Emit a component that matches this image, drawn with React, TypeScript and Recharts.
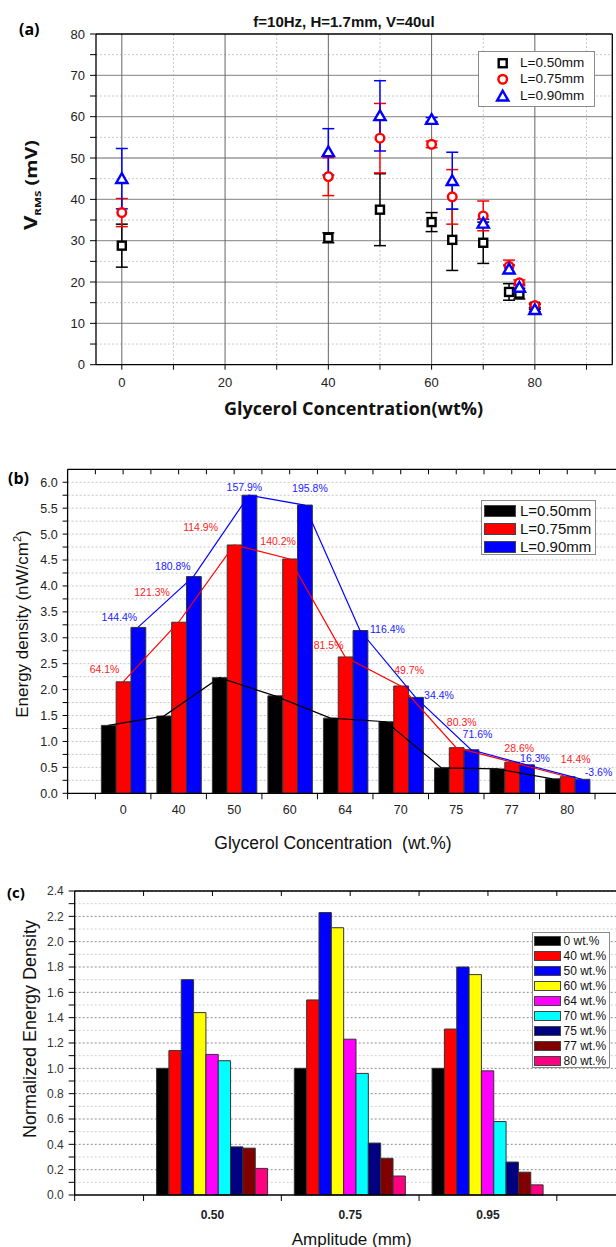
import React from 'react';
import {
  ScatterChart,
  Scatter,
  ErrorBar,
  ComposedChart,
  BarChart,
  Bar,
  Line,
  LabelList,
  XAxis,
  YAxis,
  CartesianGrid,
  Legend,
} from 'recharts';

// glycerol concentrations (wt.%) used by panels (a) and (b)
const concentrations = [0, 40, 50, 60, 64, 70, 75, 77, 80];
const seriesNames = ['L=0.50mm', 'L=0.75mm', 'L=0.90mm'];
const seriesColors = ['#000000', '#ff0000', '#0000ff'];

// (a) RMS voltage in mV, with +/- error
const vrms050 = [28.8, 30.7, 37.5, 34.5, 30.2, 29.5, 17.6, 17.2, 14.0];
const err050 = [5.2, 1.2, 8.7, 2.3, 7.4, 5.0, 2.0, 1.3, 0.6];
const vrms075 = [36.8, 45.5, 54.8, 53.3, 40.6, 36.0, 23.8, 19.8, 14.3];
const err075 = [3.4, 4.6, 8.4, 0.8, 6.6, 3.6, 1.5, 0.7, 0.5];
const vrms090 = [45.0, 51.5, 60.2, 59.3, 44.5, 34.2, 23.1, 18.7, 13.3];
const err090 = [7.3, 5.6, 8.5, 0.5, 6.9, 1.0, 1.0, 0.8, 0.5];

// (b) energy density in nW/cm2 and gain over L=0.50mm
const energy050 = [1.31, 1.49, 2.23, 1.88, 1.45, 1.38, 0.49, 0.47, 0.28];
const energy075 = [2.15, 3.3, 4.79, 4.52, 2.63, 2.07, 0.88, 0.6, 0.32];
const energy090 = [3.2, 4.18, 5.75, 5.56, 3.14, 1.85, 0.84, 0.55, 0.27];
const gain075 = ['64.1%', '121.3%', '114.9%', '140.2%', '81.5%', '49.7%', '80.3%', '28.6%', '14.4%'];
const gain090 = ['144.4%', '180.8%', '157.9%', '195.8%', '116.4%', '34.4%', '71.6%', '16.3%', '-3.6%'];

// (c) energy density normalised to 0 wt.%, one array per amplitude
const amplitudes = ['0.50', '0.75', '0.95'];
const norm050 = [1.0, 1.14, 1.7, 1.44, 1.11, 1.06, 0.38, 0.37, 0.21];
const norm075 = [1.0, 1.54, 2.23, 2.11, 1.23, 0.96, 0.41, 0.29, 0.15];
const norm095 = [1.0, 1.31, 1.8, 1.74, 0.98, 0.58, 0.26, 0.18, 0.08];
const concNames = ['0 wt.%', '40 wt.%', '50 wt.%', '60 wt.%', '64 wt.%', '70 wt.%', '75 wt.%', '77 wt.%', '80 wt.%'];
const concColors = ['#000000', '#ff0000', '#0000ff', '#ffff00', '#ff00ff', '#00ffff', '#000080', '#800000', '#ff0080'];

// axis ticks
const aXTicks = [0, 10, 20, 30, 40, 50, 60, 70, 80, 90];
const aYTicks = [0, 5, 10, 15, 20, 25, 30, 35, 40, 45, 50, 55, 60, 65, 70, 75, 80];
const bYTicks = [0, 0.25, 0.5, 0.75, 1, 1.25, 1.5, 1.75, 2, 2.25, 2.5, 2.75, 3, 3.25, 3.5, 3.75, 4, 4.25, 4.5, 4.75, 5, 5.25, 5.5, 5.75, 6];
const cYTicks = [0, 0.1, 0.2, 0.3, 0.4, 0.5, 0.6, 0.7, 0.8, 0.9, 1, 1.1, 1.2, 1.3, 1.4, 1.5, 1.6, 1.7, 1.8, 1.9, 2, 2.1, 2.2, 2.3, 2.4];

// where each gain label sits relative to the top centre of its bar
const gain075Offsets = [[-19, -12], [-27, -30], [-34, -18], [-12, -18], [-17, -12], [8, -16], [5, -25], [7, -14], [8, -17]];
const gain090Offsets = [[-19, -10], [-21, -10], [-5, -8], [5, -17], [27, -1], [23, -2], [6, -15], [8, -6], [16, -7]];

const SANS = 'Liberation Sans, Arial, sans-serif';
const BOLD = 'Open Sans, Liberation Sans, sans-serif';

// layout of panel (b): one empty half band before and after the categories
const B_WIDTH = 628;
const B_MARGIN = { top: 29.3, right: 5.2, bottom: 36.7, left: 27.6 };
const B_PLOT_W = B_WIDTH - B_MARGIN.left - B_MARGIN.right - 40;
const B_BAND = B_PLOT_W / 10;
const B_PAD = B_BAND / 2;
const B_BAR = (B_BAND * 0.8) / 3;

// layout of panel (c)
const C_WIDTH = 631;
const C_MARGIN = { top: 31, right: 5.3, bottom: 22, left: 34.7 };
const C_PLOT_W = C_WIDTH - C_MARGIN.left - C_MARGIN.right - 40;
const C_BAND = C_PLOT_W / 4;
const C_PAD = C_BAND / 2;
const C_BAR = (C_BAND * 0.806) / 9;

const pointsA = [
  concentrations.map((c, i) => ({ x: c, y: vrms050[i], err: err050[i] })),
  concentrations.map((c, i) => ({ x: c, y: vrms075[i], err: err075[i] })),
  concentrations.map((c, i) => ({ x: c, y: vrms090[i], err: err090[i] })),
];

const rowsB = concentrations.map((c, i) => ({
  conc: String(c),
  l050: energy050[i],
  l075: energy075[i],
  l090: energy090[i],
  g075: gain075[i],
  g090: gain090[i],
}));

const concKeys = concentrations.map((c) => `c${c}`);
const rowsC = amplitudes.map((amp, r) => {
  const vals = [norm050, norm075, norm095][r];
  const row: Record<string, string | number> = { amp };
  concKeys.forEach((k, i) => {
    row[k] = vals[i];
  });
  return row;
});

type MarkerProps = { cx: number; cy: number; color: string };

const OpenSquare = ({ cx, cy, color }: MarkerProps) => (
  <rect x={cx - 4} y={cy - 4} width={8} height={8} fill="#fff" stroke={color} strokeWidth={2.4} />
);
const OpenCircle = ({ cx, cy, color }: MarkerProps) => (
  <circle cx={cx} cy={cy} r={4.3} fill="#fff" stroke={color} strokeWidth={2.4} />
);
const OpenTriangle = ({ cx, cy, color }: MarkerProps) => (
  <polygon
    points={`${cx},${cy - 5.5} ${cx + 5.6},${cy + 4.3} ${cx - 5.6},${cy + 4.3}`}
    fill="#fff"
    stroke={color}
    strokeWidth={2.4}
  />
);
const markers = [OpenSquare, OpenCircle, OpenTriangle];

function LegendA() {
  return (
    <div style={{ position: 'relative', width: 117, height: 56, border: '1px solid #8a8a8a', boxSizing: 'border-box', background: '#fff' }}>
      {seriesNames.map((name, i) => {
        const Marker = markers[i];
        return (
          <div key={name} style={{ position: 'absolute', left: 0, top: 2.5 + i * 16.5, width: '100%', height: 16.5 }}>
            <svg width={20} height={16.5} style={{ position: 'absolute', left: 13, top: 0 }}>
              <Marker cx={10.7} cy={8.25} color={seriesColors[i]} />
            </svg>
            <span style={{ position: 'absolute', left: 41, top: 0, lineHeight: '16.5px', fontSize: 13.5, fontFamily: SANS, color: '#111' }}>
              {name}
            </span>
          </div>
        );
      })}
    </div>
  );
}

function LegendB() {
  return (
    <div style={{ position: 'relative', width: 115, height: 55, border: '1px solid #8a8a8a', boxSizing: 'border-box', background: '#fff' }}>
      {seriesNames.map((name, i) => (
        <div key={name} style={{ position: 'absolute', left: 0, top: 1 + i * 18, width: '100%', height: 18 }}>
          <div style={{ position: 'absolute', left: 2, top: 3, width: 32, height: 12, background: seriesColors[i], border: '1px solid #444', boxSizing: 'border-box' }} />
          <span style={{ position: 'absolute', left: 38.5, top: 0, lineHeight: '18px', fontSize: 15, fontFamily: SANS, color: '#111' }}>
            {name}
          </span>
        </div>
      ))}
    </div>
  );
}

function LegendC() {
  return (
    <div style={{ position: 'relative', width: 78, height: 136, border: '1px solid #8a8a8a', boxSizing: 'border-box', background: '#fff' }}>
      {concNames.map((name, i) => (
        <div key={name} style={{ position: 'absolute', left: 0, top: 0.5 + i * 15, width: '100%', height: 15 }}>
          <div style={{ position: 'absolute', left: 1, top: 2.5, width: 27, height: 10, background: concColors[i], border: '1px solid #444', boxSizing: 'border-box' }} />
          <span style={{ position: 'absolute', left: 31, top: 0, lineHeight: '15px', fontSize: 12, fontFamily: SANS, color: '#111' }}>
            {name}
          </span>
        </div>
      ))}
    </div>
  );
}

// bottom axis of a banded panel: label at the band centre, tick marks at the band edges
function BottomBandTick(props: any) {
  const { x, y, index, count, band, size, gap, bold, payload } = props;
  const y1 = y - gap - size;
  const y2 = y - gap;
  const edges = [x - band / 2];
  if (index === 0) edges.push(x - band);
  if (index === count - 1) edges.push(x + band / 2);
  return (
    <g>
      {edges.map((ex) => (
        <line key={ex} x1={ex} x2={ex} y1={y1} y2={y2} stroke="#000" strokeWidth={1} />
      ))}
      <text x={x} y={y} dy="0.71em" textAnchor="middle" fontSize={bold ? 12 : 12.5} fontWeight={bold ? 700 : 400} fontFamily={SANS} fill="#222">
        {payload.value}
      </text>
    </g>
  );
}

// top frame of a banded panel: inward ticks at band edges and centres
function TopBandTick(props: any) {
  const { x, y, index, count, band, size, gap } = props;
  const top = y - gap - size;
  const marks = [x - band / 2, x];
  if (index === count - 1) marks.push(x + band / 2);
  return (
    <g>
      {marks.map((mx) => (
        <line key={mx} x1={mx} x2={mx} y1={top} y2={top + size} stroke="#000" strokeWidth={1} />
      ))}
    </g>
  );
}

function gainLabel(texts: string[], offsets: number[][], color: string) {
  return (props: any) => {
    const box = props.viewBox ?? props;
    const i = typeof props.index === 'number' ? props.index : texts.indexOf(props.value);
    if (i < 0) return null;
    const [dx, dy] = offsets[i];
    return (
      <text x={box.x + box.width / 2 + dx} y={box.y + dy + 3.6} textAnchor="middle" fontSize={10.5} fontFamily={SANS} fill={color}>
        {texts[i]}
      </text>
    );
  };
}

const axisLine = { stroke: '#000', strokeWidth: 1.3 };
const tickLine = { stroke: '#000' };

function PanelA() {
  return (
    <ScatterChart width={616} height={440} margin={{ top: 34, right: 3.7, bottom: 45.3, left: 56 }}>
      <CartesianGrid horizontalValues={[5, 15, 25, 35, 45, 55, 65, 75]} verticalValues={[10, 30, 50, 70, 90]} stroke="#c9c9c9" strokeDasharray="2 2" />
      <CartesianGrid horizontalValues={[10, 20, 30, 40, 50, 60, 70]} vertical={false} stroke="#9a9a9a" strokeWidth={1.3} />
      <CartesianGrid verticalValues={[0, 20, 40, 60, 80]} horizontal={false} stroke="#666" strokeWidth={1} />
      <XAxis
        type="number"
        dataKey="x"
        domain={[-5, 95]}
        ticks={aXTicks}
        interval={0}
        tickFormatter={(v) => (v % 20 === 0 ? String(v) : '')}
        height={30}
        tickSize={5}
        tickMargin={8}
        axisLine={axisLine}
        tickLine={tickLine}
        tick={{ fontSize: 13, fill: '#222', fontFamily: SANS }}
      />
      <XAxis xAxisId="top" orientation="top" mirror type="number" domain={[-5, 95]} ticks={aXTicks} interval={0} tick={false} tickSize={5} axisLine={axisLine} tickLine={tickLine} />
      <YAxis
        type="number"
        dataKey="y"
        domain={[0, 80]}
        ticks={aYTicks}
        interval={0}
        tickFormatter={(v) => (v % 10 === 0 ? String(v) : '')}
        width={40}
        tickSize={6}
        tickMargin={5}
        axisLine={axisLine}
        tickLine={tickLine}
        tick={{ fontSize: 13, fill: '#222', fontFamily: SANS }}
      />
      <YAxis yAxisId="right" orientation="right" mirror type="number" domain={[0, 80]} ticks={aYTicks} interval={0} tick={false} tickSize={5} axisLine={axisLine} tickLine={tickLine} />
      <Legend layout="horizontal" align="center" verticalAlign="middle" content={() => <LegendA />} wrapperStyle={{ left: 478, top: 51, width: 117, height: 56 }} />
      {pointsA.map((pts, s) => {
        const Marker = markers[s];
        return (
          <Scatter
            key={seriesNames[s]}
            name={seriesNames[s]}
            data={pts}
            fill="#fff"
            isAnimationActive={false}
            shape={(p: any) => <Marker cx={p.cx} cy={p.cy} color={seriesColors[s]} />}
          >
            <ErrorBar dataKey="err" direction="y" width={6} stroke={seriesColors[s]} strokeWidth={1.5} isAnimationActive={false} />
          </Scatter>
        );
      })}
    </ScatterChart>
  );
}

function PanelB() {
  const n = rowsB.length;
  return (
    <ComposedChart width={B_WIDTH} height={420} data={rowsB} margin={B_MARGIN} barGap={0} barCategoryGap="10%">
      <CartesianGrid vertical={false} horizontalValues={bYTicks.slice(1)} stroke="#c4c4c4" strokeDasharray="2 2" />
      <XAxis
        dataKey="conc"
        padding={{ left: B_PAD, right: B_PAD }}
        interval={0}
        height={30}
        tickSize={6}
        tickMargin={5.7}
        tickLine={false}
        axisLine={axisLine}
        tick={(p: any) => <BottomBandTick {...p} count={n} band={B_BAND} size={6} gap={5.7} />}
      />
      <XAxis
        xAxisId="top"
        dataKey="conc"
        orientation="top"
        mirror
        padding={{ left: B_PAD, right: B_PAD }}
        interval={0}
        tickSize={5}
        tickMargin={0}
        tickLine={false}
        axisLine={axisLine}
        tick={(p: any) => <TopBandTick {...p} count={n} band={B_BAND} size={5} gap={0} />}
      />
      {/* the connecting lines run through the outer bars of each group */}
      <XAxis xAxisId="left-bar" dataKey="conc" orientation="top" hide padding={{ left: B_PAD - B_BAR, right: B_PAD + B_BAR }} />
      <XAxis xAxisId="right-bar" dataKey="conc" orientation="top" hide padding={{ left: B_PAD + B_BAR, right: B_PAD - B_BAR }} />
      <YAxis
        type="number"
        domain={[0, 6.25]}
        ticks={bYTicks}
        interval={0}
        tickFormatter={(v) => (v % 0.5 === 0 ? v.toFixed(1) : '')}
        width={40}
        tickSize={5}
        tickMargin={5}
        axisLine={axisLine}
        tickLine={tickLine}
        tick={{ fontSize: 12.5, fill: '#222', fontFamily: SANS }}
      />
      <YAxis yAxisId="right" orientation="right" mirror type="number" domain={[0, 6.25]} ticks={bYTicks} interval={0} tick={false} tickSize={5} axisLine={axisLine} tickLine={tickLine} />
      <Legend layout="horizontal" align="center" verticalAlign="middle" content={() => <LegendB />} wrapperStyle={{ left: 480.5, top: 60, width: 115, height: 55 }} />
      <Bar dataKey="l050" name={seriesNames[0]} fill={seriesColors[0]} stroke="#333" strokeWidth={1} barSize={B_BAR} isAnimationActive={false} />
      <Bar dataKey="l075" name={seriesNames[1]} fill={seriesColors[1]} stroke="#333" strokeWidth={1} barSize={B_BAR} isAnimationActive={false}>
        <LabelList dataKey="g075" content={gainLabel(gain075, gain075Offsets, '#ff1a1a')} />
      </Bar>
      <Bar dataKey="l090" name={seriesNames[2]} fill={seriesColors[2]} stroke="#333" strokeWidth={1} barSize={B_BAR} isAnimationActive={false}>
        <LabelList dataKey="g090" content={gainLabel(gain090, gain090Offsets, '#1a1aff')} />
      </Bar>
      <Line xAxisId="left-bar" dataKey="l050" stroke={seriesColors[0]} strokeWidth={1.2} dot={false} activeDot={false} isAnimationActive={false} />
      <Line dataKey="l075" stroke={seriesColors[1]} strokeWidth={1.2} dot={false} activeDot={false} isAnimationActive={false} />
      <Line xAxisId="right-bar" dataKey="l090" stroke={seriesColors[2]} strokeWidth={1.2} dot={false} activeDot={false} isAnimationActive={false} />
    </ComposedChart>
  );
}

function PanelC() {
  const n = rowsC.length;
  return (
    <BarChart width={C_WIDTH} height={387} data={rowsC} margin={C_MARGIN} barGap={0} barCategoryGap="10%">
      <CartesianGrid vertical={false} horizontalValues={cYTicks.filter((v) => Math.round(v * 10) % 2 === 1)} stroke="#d0d0d0" strokeDasharray="2 2" />
      <CartesianGrid vertical={false} horizontalValues={cYTicks.filter((v) => v > 0 && Math.round(v * 10) % 2 === 0)} stroke="#8c8c8c" strokeDasharray="2 2" />
      <XAxis
        dataKey="amp"
        padding={{ left: C_PAD, right: C_PAD }}
        interval={0}
        height={30}
        tickSize={6}
        tickMargin={9}
        tickLine={false}
        axisLine={axisLine}
        tick={(p: any) => <BottomBandTick {...p} count={n} band={C_BAND} size={6} gap={9} bold />}
      />
      <XAxis
        xAxisId="top"
        dataKey="amp"
        orientation="top"
        mirror
        padding={{ left: C_PAD, right: C_PAD }}
        interval={0}
        tickSize={5}
        tickMargin={0}
        tickLine={false}
        axisLine={axisLine}
        tick={(p: any) => <TopBandTick {...p} count={n} band={C_BAND} size={5} gap={0} />}
      />
      <YAxis
        type="number"
        domain={[0, 2.4]}
        ticks={cYTicks}
        interval={0}
        tickFormatter={(v) => (Math.round(v * 10) % 2 === 0 ? v.toFixed(1) : '')}
        width={40}
        tickSize={6}
        tickMargin={5}
        axisLine={axisLine}
        tickLine={tickLine}
        tick={{ fontSize: 12, fill: '#333', fontFamily: SANS }}
      />
      <YAxis yAxisId="right" orientation="right" mirror type="number" domain={[0, 2.4]} ticks={cYTicks} interval={0} tick={false} tickSize={5} axisLine={axisLine} tickLine={tickLine} />
      <Legend layout="horizontal" align="center" verticalAlign="middle" content={() => <LegendC />} wrapperStyle={{ left: 531.5, top: 72.3, width: 78, height: 136 }} />
      {concKeys.map((k, i) => (
        <Bar key={k} dataKey={k} name={concNames[i]} fill={concColors[i]} stroke="#333" strokeWidth={1} barSize={C_BAR} isAnimationActive={false} />
      ))}
    </BarChart>
  );
}

export default function App() {
  return (
    <div style={{ position: 'absolute', left: 0, top: 0, width: 616, height: 1247, overflow: 'hidden', background: '#fff' }}>
      <div style={{ position: 'absolute', left: 0, top: 0 }}>
        <PanelA />
      </div>
      <div style={{ position: 'absolute', left: 0, top: 440 }}>
        <PanelB />
      </div>
      <div style={{ position: 'absolute', left: 0, top: 860 }}>
        <PanelC />
      </div>

      {/* panel letters, titles and axis names */}
      <svg width={616} height={1247} style={{ position: 'absolute', left: 0, top: 0, pointerEvents: 'none' }}>
        <text x={19} y={35} fontFamily={BOLD} fontWeight={700} fontSize={16} fill="#000">(a)</text>
        <text x={344} y={27} textAnchor="middle" fontFamily={SANS} fontWeight={700} fontSize={15} fill="#111">
          f=10Hz, H=1.7mm, V=40ul
        </text>
        <text transform="translate(36.7,230) rotate(-90)" fontFamily={BOLD} fontWeight={700} fill="#111" textLength={90} lengthAdjust="spacingAndGlyphs">
          <tspan fontSize={18}>V</tspan>
          <tspan fontSize={9.5} dy={4}>RMS</tspan>
          <tspan fontSize={16} dy={-4}>{' (mV)'}</tspan>
        </text>
        <text x={353.5} y={415} textAnchor="middle" fontFamily={BOLD} fontWeight={700} fontSize={18} fill="#111">
          Glycerol Concentration(wt%)
        </text>

        <text x={8} y={484} fontFamily={BOLD} fontWeight={700} fontSize={16} fill="#000">(b)</text>
        <text transform="translate(28,624) rotate(-90)" textAnchor="middle" fontFamily={SANS} fontSize={17} fill="#111">
          <tspan>Energy density (nW/cm</tspan>
          <tspan fontSize={11} dy={-7}>2</tspan>
          <tspan dy={7}>)</tspan>
        </text>
        <text x={333} y={849} textAnchor="middle" fontFamily={SANS} fontSize={17.5} fill="#111" style={{ whiteSpace: 'pre' }}>
          {'Glycerol Concentration  (wt.%)'}
        </text>

        <text x={7} y={898} fontFamily={BOLD} fontWeight={700} fontSize={15} fill="#000">(c)</text>
        <text transform="translate(36,1029) rotate(-90)" textAnchor="middle" fontFamily={SANS} fontSize={18} fill="#111">
          Normalized Energy Density
        </text>
        <text x={351.7} y={1245} textAnchor="middle" fontFamily={SANS} fontSize={17} fill="#111">
          Amplitude (mm)
        </text>
      </svg>
    </div>
  );
}
